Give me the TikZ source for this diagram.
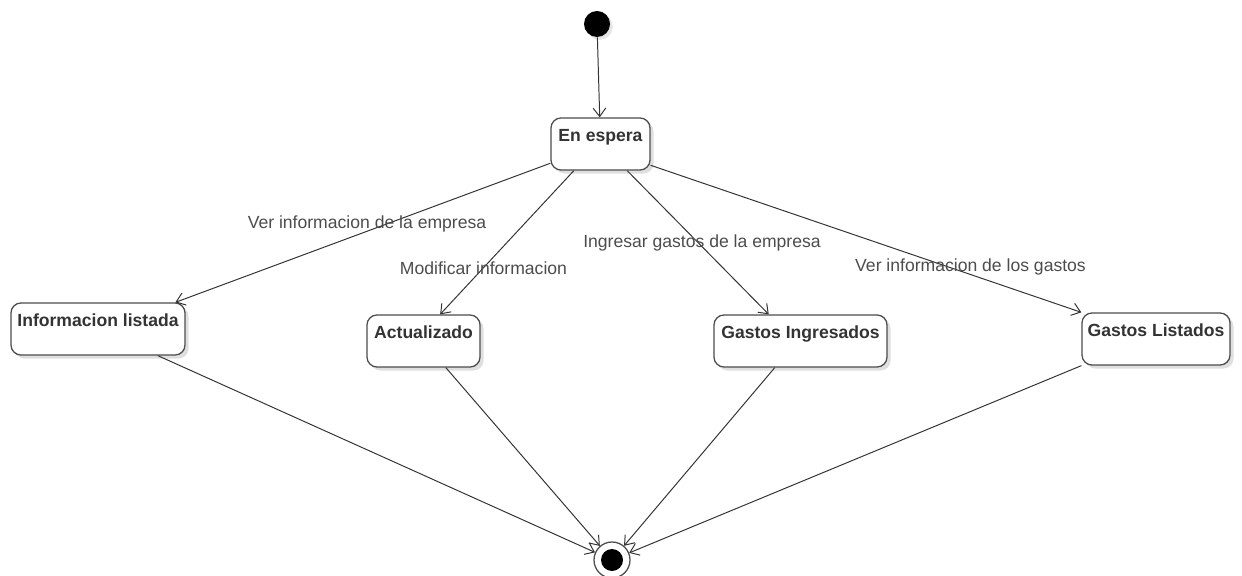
\documentclass[tikz,border=0pt]{standalone}
\usepackage{fontspec}
\setmainfont{Liberation Sans}
\usetikzlibrary{arrows.meta,shadows}

\begin{document}
\begin{tikzpicture}[x=0.025cm,y=-0.025cm,
  state/.style={draw=black!70, line width=0.9pt, rounded corners=0.25cm, fill=white,
    drop shadow={shadow xshift=2.5pt,shadow yshift=-2.5pt,opacity=0.25},
    font=\fontsize{12.5}{15}\selectfont\bfseries, text=black!80,
    minimum height=1.3cm, inner ysep=0pt, text height=16.6pt, text depth=20.4pt},
  trans/.style={draw=black!80, line width=0.7pt, -{Straight Barb[length=6pt,width=9pt]}},
  lbl/.style={font=\fontsize{12.5}{15}\selectfont, text=black!70, inner sep=0pt}]

\useasboundingbox (0,0) rectangle (1242,576);

% Initial and final pseudo states
\node[circle, fill=black, minimum size=0.65cm, inner sep=0pt,
  drop shadow={shadow xshift=2pt,shadow yshift=-2pt,opacity=0.2}] (start) at (597,24) {};
\node[circle, draw=black!70, line width=0.9pt, fill=white, minimum size=0.9cm, inner sep=0pt] (final) at (612,560) {};
\fill[black] (final) circle (0.275cm);

% States
\node[state, minimum width=2.475cm] (espera) at (600.5,144) {En espera};
\node[state, minimum width=4.35cm] (info) at (98,329) {Informacion listada};
\node[state, minimum width=2.825cm] (act) at (423.5,341) {Actualizado};
\node[state, minimum width=4.325cm] (gi) at (800.5,341) {Gastos Ingresados};
\node[state, minimum width=3.7cm] (gl) at (1156,339) {Gastos Listados};

% Transitions out of En espera
\draw[trans] (start) -- (espera);
\draw[trans] (espera.201) -- (info.19);
\draw[trans] (espera.225) -- (act.58);
\draw[trans] (espera.315) -- (gi.140);
\draw[trans] (espera.337) -- (gl.north west);

% Transition labels
\node[lbl] (lblinfo) at (367,224) {Ver informacion de la empresa};
\node[lbl] (lblact) at (483.5,268) {Modificar informacion};
\node[lbl] (lblgi) at (702,243) {Ingresar gastos de la empresa};
\node[lbl] (lblgl) at (970.5,267) {Ver informacion de los gastos};

% Transitions to the final state
\draw[trans] (info.336) -- (final);
\draw[trans] (act.310) -- (final);
\draw[trans] (gi.226) -- (final);
\draw[trans] (gl.south west) -- (final);

\end{tikzpicture}
\end{document}
